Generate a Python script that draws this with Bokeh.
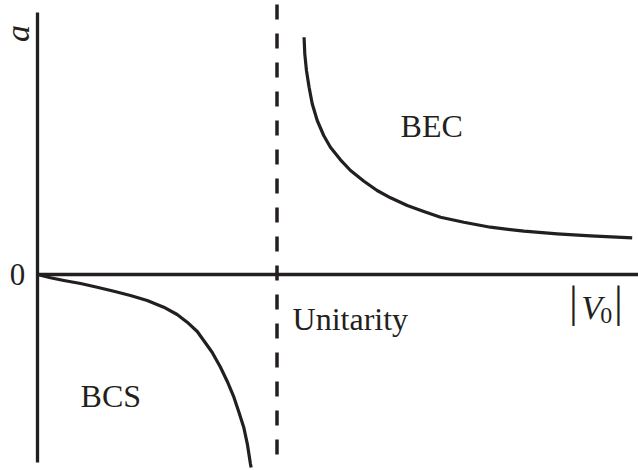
from bokeh.plotting import figure
from bokeh.models import Range1d, Label
from bokeh.embed import file_html
from bokeh.resources import INLINE

# ---- data ----
# |V0| in units of the unitarity value, a in arbitrary units
bcs_v = [0.0, 0.054, 0.110, 0.180, 0.249, 0.319, 0.388, 0.458, 0.527, 0.583, 0.625,
         0.667, 0.694, 0.729, 0.764, 0.792, 0.820, 0.841, 0.861, 0.876, 0.889, 0.892]
bcs_a = [0.0, -0.033, -0.06, -0.09, -0.127, -0.167, -0.21, -0.26, -0.327, -0.40, -0.477,
         -0.57, -0.66, -0.777, -0.927, -1.067, -1.227, -1.377, -1.527, -1.693, -1.893, -1.93]

bec_v = [1.113, 1.116, 1.123, 1.134, 1.147, 1.168, 1.195, 1.223, 1.265, 1.307, 1.363,
         1.418, 1.474, 1.544, 1.613, 1.683, 1.780, 1.891, 2.031, 2.170, 2.309, 2.483]
bec_a = [2.373, 2.207, 2.04, 1.873, 1.707, 1.54, 1.39, 1.273, 1.147, 1.04, 0.933,
         0.84, 0.767, 0.69, 0.63, 0.573, 0.523, 0.473, 0.433, 0.407, 0.387, 0.367]

unitarity = [1.0, 1.0]
unitarity_a = [2.70, -1.86]

axis_v_x = [0.0, 0.0]
axis_v_y = [2.62, -1.88]
axis_h_x = [0.0, 2.52]
axis_h_y = [0.0, 0.0]

ink = "#231f20"
serif = "Liberation Serif"

p = figure(width=638, height=470, output_backend="svg", toolbar_location=None,
           x_range=Range1d(-0.1545, 2.5094), y_range=Range1d(-1.96, 2.74),
           x_axis_type=None, y_axis_type=None, min_border=0,
           outline_line_color=None, background_fill_color="white",
           border_fill_color="white")
p.grid.visible = False

# axes
p.line(axis_v_x, axis_v_y, line_color=ink, line_width=3.3)
p.line(axis_h_x, axis_h_y, line_color=ink, line_width=3.3)
# unitarity
p.line(unitarity, unitarity_a, line_color=ink, line_width=3.5, line_dash="15 14")
# curves
p.line(bcs_v, bcs_a, line_color=ink, line_width=3.2, line_join="round")
p.line(bec_v, bec_a, line_color=ink, line_width=3.2, line_join="round")

def lab(x, y, t, size, style="normal", align="left", baseline="alphabetic", angle=0.0):
    p.add_layout(Label(x=x, y=y, text=t, text_font=serif, text_font_size=size,
                       text_font_style=style, text_color=ink, text_align=align,
                       text_baseline=baseline, angle=angle))

lab(0.18, -1.21, "BCS", "32px")
lab(1.516, 1.49, "BEC", "32px")
lab(1.065, -0.44, "Unitarity", "32px")
lab(-0.084, 0.0, "0", "31px", align="center")
lab(-0.084, 2.41, "a", "34px", style="italic", align="center", baseline="middle", angle=1.5708)
# |V0|
lab(2.238, -0.28, "|", "44px", align="center", baseline="middle")
lab(2.426, -0.28, "|", "44px", align="center", baseline="middle")
lab(2.27, -0.33, "V", "34px", style="italic")
lab(2.35, -0.41, "0", "24px")

open("out.html", "w").write(file_html(p, INLINE))
